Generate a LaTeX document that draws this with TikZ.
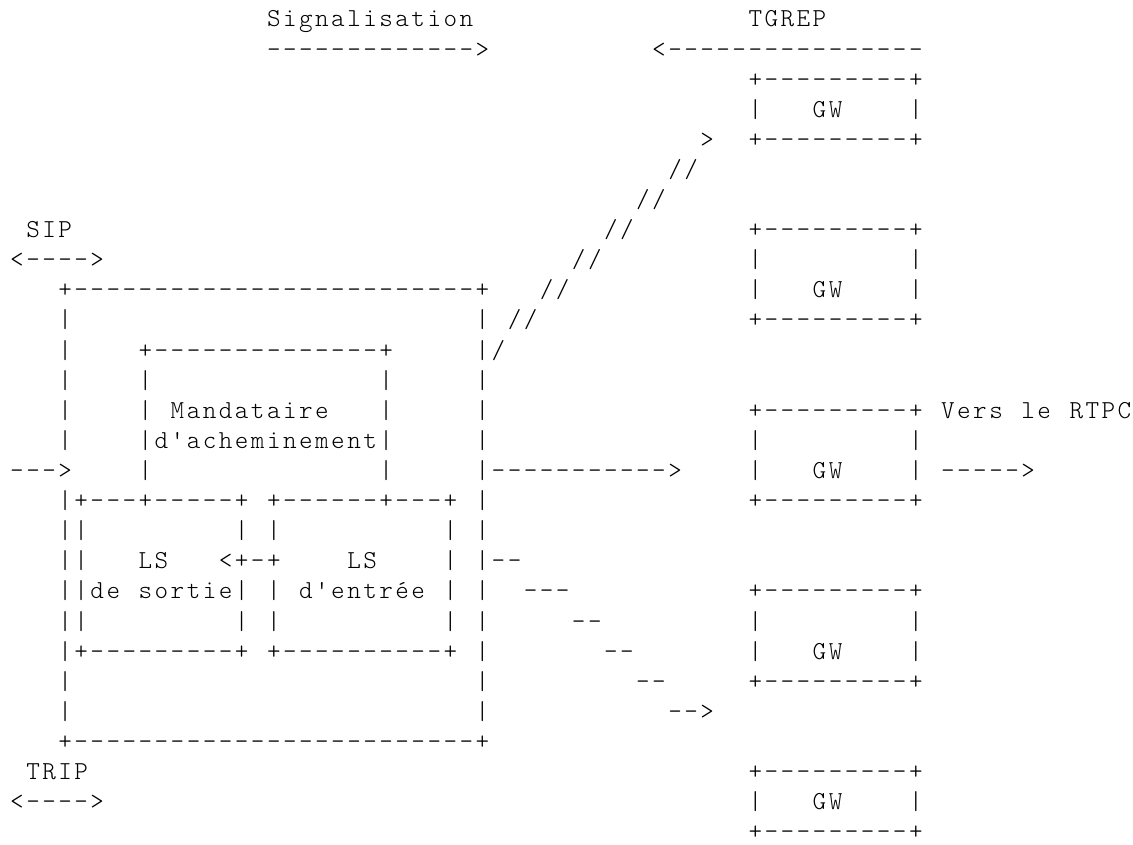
\documentclass[tikz,border=0pt]{standalone}
\newlength\ascw
\setlength\ascw{12.0375pt}
\ExplSyntaxOn
\NewDocumentCommand\asc{m}{\str_map_inline:nn{#1}{\makebox[\ascw][c]{##1}}}
\ExplSyntaxOff
\newcommand\segat[3]{\node[artline] (r#1c#2) at ({9+16.05*#2},{27+30.1*(#1-1)}) {\asc{#3}};}
\begin{document}
\begin{tikzpicture}[x=0.75pt,y=-0.75pt,
  artline/.style={anchor=base west,inner sep=0pt,outer sep=0pt,text=black,
    font=\fontsize{19.4pt}{22pt}\ttfamily\fontseries{l}\selectfont}]
\fill[white] (0,0) rectangle (1133,845);
\useasboundingbox (0,0) rectangle (1133,845);
% line 1
\segat{1}{16}{Signalisation}
\segat{1}{46}{TGREP}
% line 2
\segat{2}{16}{------------->}
\segat{2}{40}{<----------------}
% line 3-5
\segat{3}{46}{+---------+}
\segat{4}{46}{|}
\segat{4}{50}{GW}
\segat{4}{56}{|}
\segat{5}{43}{>}
\segat{5}{46}{+---------+}
% line 6-7
\segat{6}{41}{//}
\segat{7}{39}{//}
% line 8
\segat{8}{1}{SIP}
\segat{8}{37}{//}
\segat{8}{46}{+---------+}
% line 9
\segat{9}{0}{<---->}
\segat{9}{35}{//}
\segat{9}{46}{|}
\segat{9}{56}{|}
% line 10
\segat{10}{3}{+-------------------------+}
\segat{10}{33}{//}
\segat{10}{46}{|}
\segat{10}{50}{GW}
\segat{10}{56}{|}
% line 11
\segat{11}{3}{|}
\segat{11}{29}{|}
\segat{11}{31}{//}
\segat{11}{46}{+---------+}
% line 12
\segat{12}{3}{|}
\segat{12}{8}{+--------------+}
\segat{12}{29}{|/}
% line 13
\segat{13}{3}{|}
\segat{13}{8}{|}
\segat{13}{23}{|}
\segat{13}{29}{|}
% line 14
\segat{14}{3}{|}
\segat{14}{8}{|}
\segat{14}{10}{Mandataire}
\segat{14}{23}{|}
\segat{14}{29}{|}
\segat{14}{46}{+---------+}
\segat{14}{58}{Vers le RTPC}
% line 15
\segat{15}{3}{|}
\segat{15}{8}{|d'acheminement|}
\segat{15}{29}{|}
\segat{15}{46}{|}
\segat{15}{56}{|}
% line 16
\segat{16}{0}{--->}
\segat{16}{8}{|}
\segat{16}{23}{|}
\segat{16}{29}{|----------->}
\segat{16}{46}{|}
\segat{16}{50}{GW}
\segat{16}{56}{|}
\segat{16}{58}{----->}
% line 17
\segat{17}{3}{|+---+-----+}
\segat{17}{16}{+------+---+}
\segat{17}{29}{|}
\segat{17}{46}{+---------+}
% line 18
\segat{18}{3}{||}
\segat{18}{14}{|}
\segat{18}{16}{|}
\segat{18}{27}{|}
\segat{18}{29}{|}
% line 19
\segat{19}{3}{||}
\segat{19}{8}{LS}
\segat{19}{13}{<+-+}
\segat{19}{21}{LS}
\segat{19}{27}{|}
\segat{19}{29}{|--}
% line 20
\segat{20}{3}{||de sortie|}
\segat{20}{16}{|}
\segat{20}{18}{d'entrée}
\segat{20}{27}{|}
\segat{20}{29}{|}
\segat{20}{32}{---}
\segat{20}{46}{+---------+}
% line 21
\segat{21}{3}{||}
\segat{21}{14}{|}
\segat{21}{16}{|}
\segat{21}{27}{|}
\segat{21}{29}{|}
\segat{21}{35}{--}
\segat{21}{46}{|}
\segat{21}{56}{|}
% line 22
\segat{22}{3}{|+---------+}
\segat{22}{16}{+----------+}
\segat{22}{29}{|}
\segat{22}{37}{--}
\segat{22}{46}{|}
\segat{22}{50}{GW}
\segat{22}{56}{|}
% line 23
\segat{23}{3}{|}
\segat{23}{29}{|}
\segat{23}{39}{--}
\segat{23}{46}{+---------+}
% line 24
\segat{24}{3}{|}
\segat{24}{29}{|}
\segat{24}{41}{-->}
% line 25
\segat{25}{3}{+-------------------------+}
% line 26
\segat{26}{1}{TRIP}
\segat{26}{46}{+---------+}
% line 27
\segat{27}{0}{<---->}
\segat{27}{46}{|}
\segat{27}{50}{GW}
\segat{27}{56}{|}
% line 28
\segat{28}{46}{+---------+}
\end{tikzpicture}
\end{document}
